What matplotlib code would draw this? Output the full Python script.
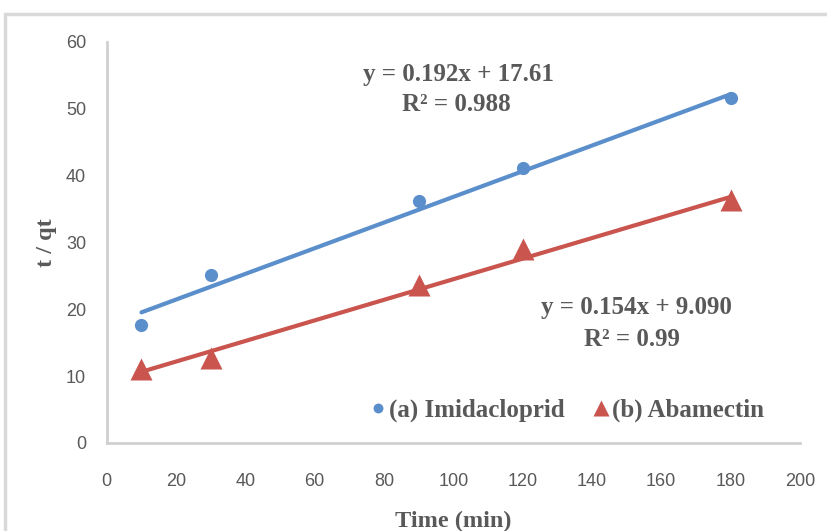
import matplotlib
matplotlib.use("Agg")
from matplotlib import pyplot as plt
from matplotlib.patches import Rectangle
import numpy as np

# data
time_min = [10, 30, 90, 120, 180]
imidacloprid = [17.7, 25.1, 36.2, 41.1, 51.6]
abamectin = [11.1, 12.7, 23.6, 29.0, 36.3]

# trendlines as printed on the chart
fit_imid = (0.192, 17.61)
fit_abam = (0.154, 9.090)

blue = "#5b8fcb"
red = "#c9554e"
grey_txt = "#595959"
axis_grey = "#d0d0d0"
serif = ["Liberation Serif", "DejaVu Serif"]
tickfont = ["Liberation Sans Narrow", "Liberation Sans", "DejaVu Sans"]

fig = plt.figure(figsize=(8.28, 5.31), dpi=100)
ax = fig.add_axes([0.129, 0.166, 0.837, 0.755])

# outer chart frame (Excel style)
fig.patches.append(Rectangle((0.006, -0.05), 1.1, 0.05 + 0.974, transform=fig.transFigure,
                             fill=False, edgecolor="#d9d9d9", linewidth=2.5))

x = np.array(time_min, dtype=float)
xl = np.array([x.min(), x.max()])
ax.plot(xl, fit_imid[0] * xl + fit_imid[1], color=blue, lw=3, solid_capstyle="round", zorder=2)
ax.plot(xl, fit_abam[0] * xl + fit_abam[1], color=red, lw=3, solid_capstyle="round", zorder=2)
ax.plot(x, imidacloprid, "o", color=blue, ms=9.5, mec="none", zorder=3, label="(a) Imidacloprid")
ax.plot(x, abamectin, "^", color=red, ms=16, mec="none", zorder=3, label="(b) Abamectin")

ax.set_xlim(0, 200)
ax.set_ylim(0, 60)
ax.set_xticks(range(0, 201, 20))
ax.set_yticks(range(0, 61, 10))
for s in ["top", "right"]:
    ax.spines[s].set_visible(False)
for s in ["left", "bottom"]:
    ax.spines[s].set_color(axis_grey)
    ax.spines[s].set_linewidth(2)
ax.tick_params(length=0, labelsize=13, colors=grey_txt)
ax.tick_params(axis="x", pad=22)
ax.tick_params(axis="y", pad=15)
for lab in ax.get_xticklabels() + ax.get_yticklabels():
    lab.set_family(tickfont)

ax.set_xlabel("Time (min)", family=serif, fontweight="bold", fontsize=17.5, color=grey_txt, labelpad=15)
ax.set_ylabel("t / qt", family=serif, fontweight="bold", fontsize=17.5, color=grey_txt, labelpad=6)

eq_kw = dict(family=serif, fontweight="bold", fontsize=18, color=grey_txt, ha="center", va="center")
ax.text(101.5, 55.1, "y = 0.192x + 17.61", **eq_kw)
ax.text(101, 50.6, "R² = 0.988", **eq_kw)
ax.text(152.8, 20.2, "y = 0.154x + 9.090", **eq_kw)
ax.text(151.5, 15.4, "R² = 0.99", **eq_kw)

leg = ax.legend(loc="center", bbox_to_anchor=(0.664, 0.082), ncol=2, frameon=False,
                handlelength=0.6, handletextpad=0.15, columnspacing=1.15, markerscale=0.75,
                prop=dict(family=serif, weight="bold", size=18))
for t in leg.get_texts():
    t.set_color(grey_txt)

fig.savefig("out.png", dpi=100)
